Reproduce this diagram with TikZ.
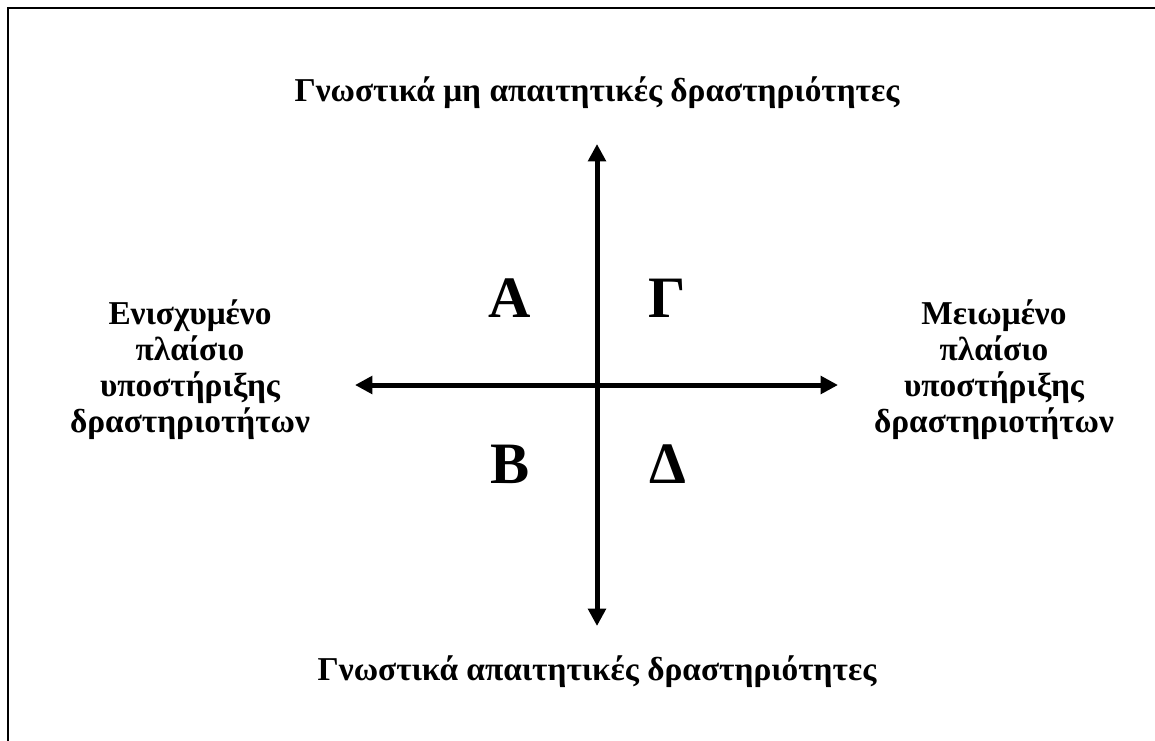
\documentclass[tikz,border=0pt]{standalone}
\usepackage{fontspec}
\setmainfont{Liberation Serif}
\usetikzlibrary{arrows.meta}
\newcommand{\toprule}{\rule{0pt}{20pt}}
\tikzset{
  axis/.style={line width=3.75pt, {Triangle[length=13pt,width=13pt]}-{Triangle[length=13pt,width=13pt]}},
  label/.style={font=\bfseries\fontsize{25}{27}\selectfont, align=center, inner sep=0pt},
  quad/.style={font=\bfseries\fontsize{44}{48}\selectfont, inner sep=0pt, anchor=base},
  frameline/.style={line width=1.5pt, line join=miter}
}
\begin{document}
\begin{tikzpicture}[x=0.75pt,y=-0.75pt]
\useasboundingbox (0,0) rectangle (1155,740);
\fill[white] (0,0) rectangle (1155,740);
\coordinate (fbl) at (8,745);
\coordinate (fc) at (8,8);
\coordinate (ftr) at (1160,8);
\draw[frameline] (fbl) -- (fc) -- (ftr);
\coordinate (top) at (597,144);
\coordinate (bot) at (597,626);
\coordinate (lft) at (355,385);
\coordinate (rgt) at (838,385);
\draw[axis] (bot) -- (top);
\draw[axis] (lft) -- (rgt);
\node[label, anchor=base] (ttop) at (597,101) {Γνωστικά μη απαιτητικές δραστηριότητες};
\node[label, anchor=base] (tbot) at (597,680) {Γνωστικά απαιτητικές δραστηριότητες};
\node[label, anchor=north] (tl) at (190,297.3) {\toprule Ενισχυμένο\\πλαίσιο\\υποστήριξης\\δραστηριοτήτων};
\node[label, anchor=north] (tr) at (994,297.3) {\toprule Μειωμένο\\πλαίσιο\\υποστήριξης\\δραστηριοτήτων};
\node[quad] (qa) at (510,317) {Α};
\node[quad] (qg) at (667,317) {Γ};
\node[quad] (qb) at (510,483) {Β};
\node[quad] (qd) at (668,483) {Δ};
\end{tikzpicture}
\end{document}
